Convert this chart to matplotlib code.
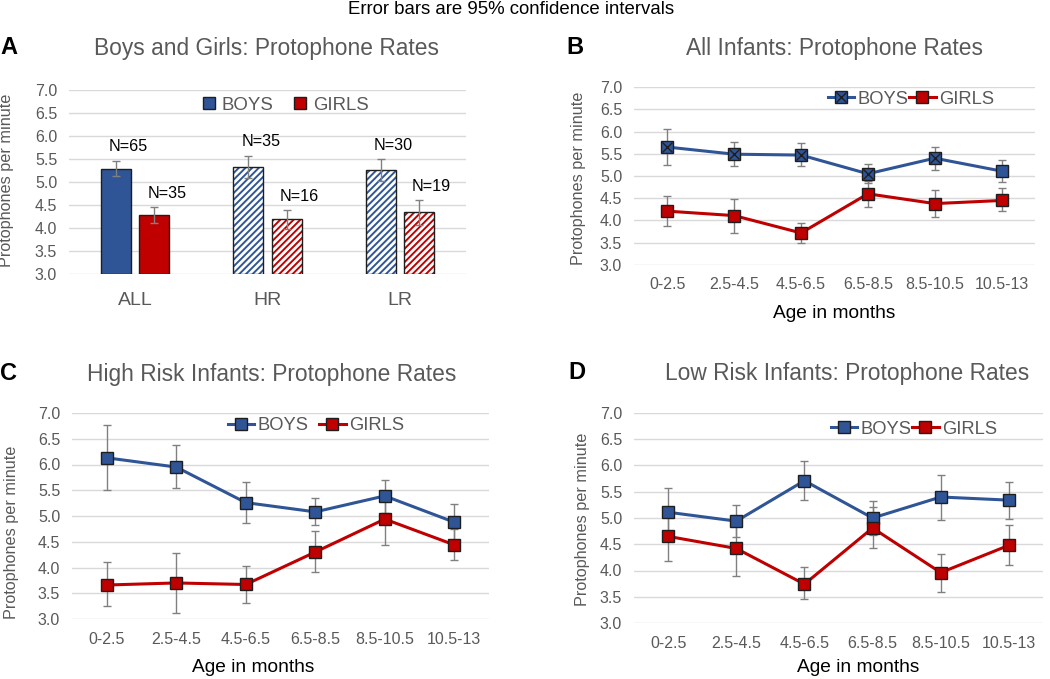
import matplotlib
matplotlib.use('Agg')
import matplotlib.pyplot as plt
from matplotlib.lines import Line2D
from matplotlib.legend_handler import HandlerTuple
import numpy as np

plt.rcParams['font.family'] = ['Liberation Sans', 'DejaVu Sans']
plt.rcParams['hatch.linewidth'] = 1.4

# ---------------- data ----------------
groups = ['ALL', 'HR', 'LR']
boys_a = [5.29, 5.33, 5.26]
boys_a_lo = [5.13, 5.08, 5.03]
boys_a_hi = [5.46, 5.57, 5.49]
girls_a = [4.28, 4.20, 4.35]
girls_a_lo = [4.11, 3.98, 4.07]
girls_a_hi = [4.45, 4.39, 4.61]
boys_n = [65, 35, 30]
girls_n = [35, 16, 19]

ages = ['0-2.5', '2.5-4.5', '4.5-6.5', '6.5-8.5', '8.5-10.5', '10.5-13']

boys_b = [5.65, 5.49, 5.47, 5.05, 5.40, 5.11]
boys_b_lo = [5.25, 5.23, 5.22, 4.84, 5.14, 4.87]
boys_b_hi = [6.06, 5.76, 5.75, 5.26, 5.65, 5.36]
girls_b = [4.21, 4.11, 3.72, 4.60, 4.38, 4.45]
girls_b_lo = [3.88, 3.73, 3.49, 4.31, 4.07, 4.21]
girls_b_hi = [4.55, 4.49, 3.94, 4.88, 4.69, 4.72]

boys_c = [6.13, 5.95, 5.26, 5.08, 5.39, 4.88]
boys_c_lo = [5.50, 5.55, 4.86, 4.83, 5.06, 4.52]
boys_c_hi = [6.77, 6.37, 5.66, 5.35, 5.70, 5.23]
girls_c = [3.66, 3.70, 3.67, 4.30, 4.94, 4.44]
girls_c_lo = [3.25, 3.11, 3.32, 3.91, 4.43, 4.14]
girls_c_hi = [4.10, 4.29, 4.03, 4.70, 5.45, 4.74]

boys_d = [5.11, 4.94, 5.71, 5.00, 5.40, 5.34]
boys_d_lo = [4.65, 4.64, 5.34, 4.68, 4.97, 4.99]
boys_d_hi = [5.57, 5.24, 6.08, 5.33, 5.81, 5.69]
girls_d = [4.65, 4.42, 3.74, 4.81, 3.96, 4.48]
girls_d_lo = [4.19, 3.89, 3.45, 4.42, 3.60, 4.10]
girls_d_hi = [5.11, 4.95, 4.06, 5.20, 4.32, 4.86]

# ---------------- style ----------------
BLUE = '#2F5597'
RED = '#C00000'
GRAY = '#595959'
EDGE = '#1e1e1e'
ERR = '#808080'

W, H = 1050, 679
fig = plt.figure(figsize=(10.5, 6.79), dpi=100)


def ax_px(x0, y0, x1, y1):
    return fig.add_axes([x0 / W, 1 - y1 / H, (x1 - x0) / W, (y1 - y0) / H])


def ftext(x, y, s, **kw):
    fig.text(x / W, 1 - y / H, s, **kw)


def style(ax):
    ax.set_ylim(3, 7)
    yt = np.arange(3, 7.01, 0.5)
    ax.set_yticks(yt)
    ax.set_yticklabels(['%.1f' % v for v in yt])
    ax.grid(axis='y', color='#d9d9d9', lw=1.0)
    ax.set_axisbelow(True)
    for s in ax.spines.values():
        s.set_visible(False)
    ax.tick_params(axis='y', length=0, labelsize=11.5, colors=GRAY, pad=8.5)
    ax.tick_params(axis='x', length=0)


def yerr(v, lo, hi):
    v = np.array(v); return [v - np.array(lo), np.array(hi) - v]


# ---------------- title ----------------
ftext(511, 10, 'Error bars are 95% confidence intervals', fontsize=13.4,
      ha='center', va='center', color='black')

# ---------------- Panel A ----------------
axA = ax_px(69, 90, 466, 274)
style(axA)
x = np.arange(len(groups))
bw = 0.227
off = 0.144
for i in range(len(groups)):
    for val, lo, hi, col, sgn, n in [(boys_a[i], boys_a_lo[i], boys_a_hi[i], BLUE, -1, boys_n[i]),
                                     (girls_a[i], girls_a_lo[i], girls_a_hi[i], RED, 1, girls_n[i])]:
        xc = x[i] + sgn * off
        if i == 0:
            axA.bar(xc, val - 3, bottom=3, width=bw, color=col, edgecolor=EDGE, lw=1.0, zorder=2)
        else:
            axA.bar(xc, val - 3, bottom=3, width=bw, facecolor='white', edgecolor=col,
                    hatch='/////', lw=0, zorder=2)
            axA.bar(xc, val - 3, bottom=3, width=bw, fill=False, edgecolor=EDGE, lw=1.0, zorder=3)
        axA.errorbar(xc, val, yerr=[[val - lo], [hi - val]], fmt='none', ecolor=ERR,
                     elinewidth=1.0, capsize=3, capthick=1.0, zorder=4)
        axA.annotate('N=%d' % n, (xc, hi), xytext=(9, 10), textcoords='offset points',
                     ha='center', va='center', fontsize=11.6, color='black')
axA.set_xlim(-0.5, 2.5)
axA.set_xticks(x)
axA.set_xticklabels(groups)
axA.tick_params(axis='x', labelsize=14, colors=GRAY, pad=13)
hA = [Line2D([], [], ls='none', marker='s', ms=9, mfc=BLUE, mec=EDGE, mew=1),
      Line2D([], [], ls='none', marker='s', ms=9, mfc=RED, mec=EDGE, mew=1)]
legA = fig.legend(hA, ['BOYS', 'GIRLS'], loc='center', bbox_to_anchor=(285 / W, 1 - 105 / H),
                  ncol=2, frameon=False, fontsize=13.4, handlelength=0.8, handletextpad=0.3,
                  columnspacing=1.0, borderpad=0)
for t in legA.get_texts():
    t.set_color(GRAY)
ftext(267, 48, 'Boys and Girls: Protophone Rates', fontsize=16.4, color=GRAY, ha='center', va='center')
ftext(0, 48, 'A', fontsize=17, fontweight='bold', ha='left', va='center')
ftext(7, 180, 'Protophones per minute', fontsize=11.7, color=GRAY, rotation=90, ha='center', va='center')


# ---------------- line panels ----------------
def line_panel(box, b, blo, bhi, g, glo, ghi, crossed=None):
    ax = ax_px(*box)
    style(ax)
    xi = np.arange(len(ages))
    for v, lo, hi, col in [(b, blo, bhi, BLUE), (g, glo, ghi, RED)]:
        ax.errorbar(xi, v, yerr=yerr(v, lo, hi), fmt='none', ecolor=ERR, elinewidth=1.0,
                    capsize=3, capthick=1.0, zorder=2)
        ax.plot(xi, v, color=col, lw=2.2, zorder=3)
        ax.plot(xi, v, ls='none', marker='s', ms=8.5, mfc=col, mec=EDGE, mew=1.0, zorder=4)
    if crossed is not None:
        xs = [xi[k] for k in range(len(xi)) if crossed[k]]
        ys = [b[k] for k in range(len(xi)) if crossed[k]]
        ax.plot(xs, ys, ls='none', marker='x', ms=7.5, mec=EDGE, mew=1.0, zorder=5)
    ax.set_xlim(-0.5, len(ages) - 0.5)
    ax.set_xticks(xi)
    ax.set_xticklabels(ages)
    ax.tick_params(axis='x', labelsize=11.5, colors=GRAY, pad=9)
    return ax


def line_legend(cx, cy, colspace, crossed=False):
    hb = Line2D([], [], color=BLUE, lw=2.2, marker='s', ms=8.5, mfc=BLUE, mec=EDGE, mew=1.0)
    if crossed:
        hb = (hb, Line2D([], [], ls='none', marker='x', ms=7.5, mec=EDGE, mew=1.0))
    hg = Line2D([], [], color=RED, lw=2.2, marker='s', ms=8.5, mfc=RED, mec=EDGE, mew=1.0)
    leg = fig.legend([hb, hg], ['BOYS', 'GIRLS'], loc='center', bbox_to_anchor=(cx / W, 1 - cy / H),
                     ncol=2, frameon=False, fontsize=13.2, handlelength=1.45, handletextpad=0.2,
                     columnspacing=colspace, borderpad=0,
                     handler_map={tuple: HandlerTuple(ndivide=1, pad=0)})
    for t in leg.get_texts():
        t.set_color(GRAY)


crossed_b = [True, True, True, True, True, False]
line_panel((634, 87, 1035, 265), boys_b, boys_b_lo, boys_b_hi, girls_b, girls_b_lo, girls_b_hi,
           crossed=crossed_b)
line_legend(911, 99, 0.0, crossed=True)
ftext(835, 48, 'All Infants: Protophone Rates', fontsize=16.4, color=GRAY, ha='center', va='center')
ftext(566, 48, 'B', fontsize=17, fontweight='bold', ha='left', va='center')
ftext(578, 178, 'Protophones per minute', fontsize=11.7, color=GRAY, rotation=90, ha='center', va='center')
ftext(834, 313, 'Age in months', fontsize=13.8, color='black', ha='center', va='center')

line_panel((72, 413, 489, 619), boys_c, boys_c_lo, boys_c_hi, girls_c, girls_c_lo, girls_c_hi)
line_legend(316, 426, 0.55)
ftext(272, 375, 'High Risk Infants: Protophone Rates', fontsize=16.4, color=GRAY, ha='center', va='center')
ftext(0, 374, 'C', fontsize=17, fontweight='bold', ha='left', va='center')
ftext(12, 532, 'Protophones per minute', fontsize=11.7, color=GRAY, rotation=90, ha='center', va='center')
ftext(253, 668, 'Age in months', fontsize=13.8, color='black', ha='center', va='center')

line_panel((634, 413, 1043, 623), boys_d, boys_d_lo, boys_d_hi, girls_d, girls_d_lo, girls_d_hi)
line_legend(914, 429, 0.0)
ftext(847, 373, 'Low Risk Infants: Protophone Rates', fontsize=16.4, color=GRAY, ha='center', va='center')
ftext(568, 372, 'D', fontsize=17, fontweight='bold', ha='left', va='center')
ftext(583, 519, 'Protophones per minute', fontsize=11.7, color=GRAY, rotation=90, ha='center', va='center')
ftext(858, 668, 'Age in months', fontsize=13.8, color='black', ha='center', va='center')

fig.savefig('out.png', dpi=100)
